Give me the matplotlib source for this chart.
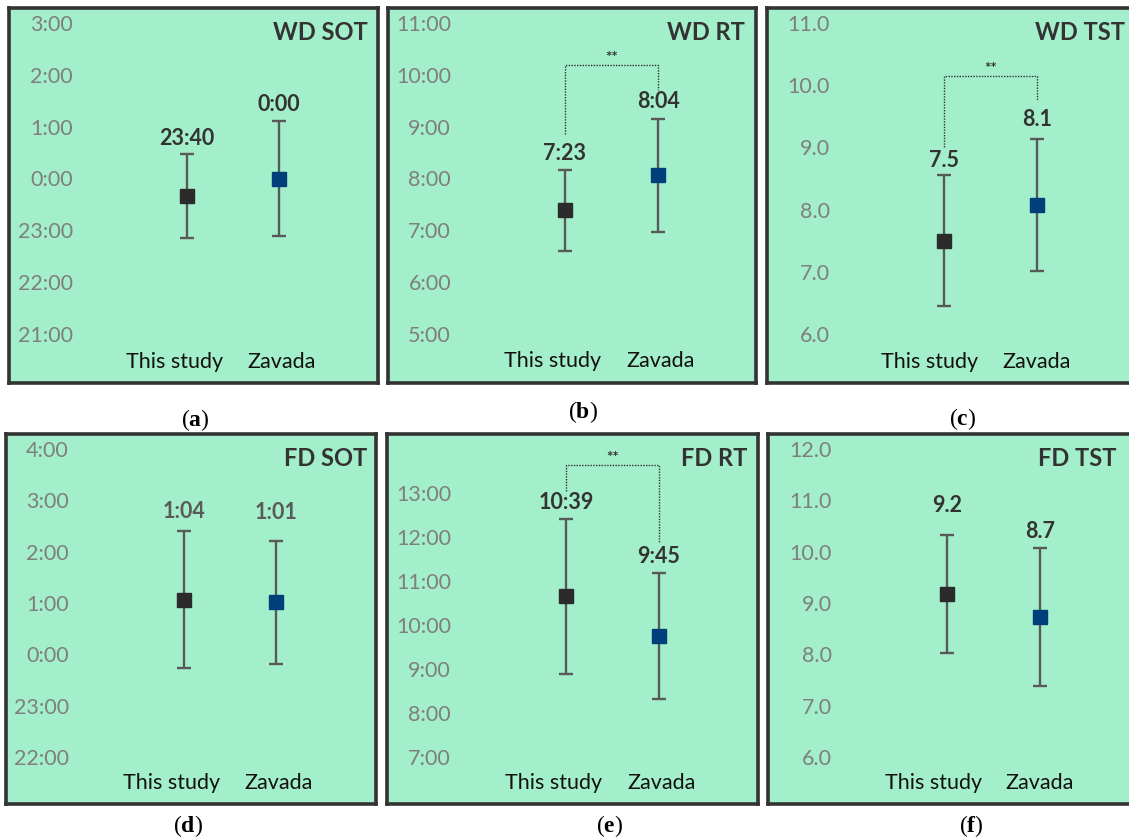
import matplotlib
matplotlib.use("Agg")
import matplotlib.pyplot as plt
from matplotlib.transforms import ScaledTranslation

plt.rcParams['font.family'] = ['Lato', 'DejaVu Sans']
plt.rcParams['mathtext.fontset'] = 'custom'
plt.rcParams['mathtext.bf'] = 'Liberation Serif:bold'
plt.rcParams['mathtext.rm'] = 'Liberation Serif'

# ---------------- data ----------------
groups = ["This study", "Zavada"]
titles = ["WD SOT", "WD RT", "WD TST", "FD SOT", "FD RT", "FD TST"]
letters = ["a", "b", "c", "d", "e", "f"]
kinds = ["time", "time", "num", "time", "time", "num"]

# means (hours; SOT relative to midnight) and standard deviations
wd_sot_mean = [-0.333, 0.0]
wd_sot_sd = [0.81, 1.10]
wd_rt_mean = [7.383, 8.067]
wd_rt_sd = [0.79, 1.09]
wd_tst_mean = [7.50, 8.07]
wd_tst_sd = [1.05, 1.06]
fd_sot_mean = [1.067, 1.017]
fd_sot_sd = [1.34, 1.20]
fd_rt_mean = [10.65, 9.75]
fd_rt_sd = [1.76, 1.43]
fd_tst_mean = [9.18, 8.73]
fd_tst_sd = [1.15, 1.35]

means = [wd_sot_mean, wd_rt_mean, wd_tst_mean, fd_sot_mean, fd_rt_mean, fd_tst_mean]
sds = [wd_sot_sd, wd_rt_sd, wd_tst_sd, fd_sot_sd, fd_rt_sd, fd_tst_sd]

# axis ranges and ticks
ylims = [(-3, 3), (5, 11), (6, 11), (-2, 4), (7, 14), (6, 12)]
yticks = [list(range(-3, 4)), list(range(5, 12)), list(range(6, 12)),
          list(range(-2, 5)), list(range(7, 14)), list(range(6, 13))]

# significance brackets: (left start, bracket top, right start) or None
brackets = [None, (8.85, 10.19, 9.71), (9.01, 10.15, 9.75), None, (13.05, 13.64, 11.89), None]

# ---------------- layout (pixels) ----------------
W, H = 1129, 839
DPI = 100
# frame boxes: left, top, right, bottom
boxes = [(9, 8, 378, 383), (388, 8, 756, 383), (767, 8, 1134, 383),
         (6, 434, 376, 804), (387, 434, 758, 804), (768, 434, 1134, 804)]
# category x pixel positions
catx = [(187, 279), (565, 658), (944, 1037), (184, 276), (566, 659), (947, 1040)]
# y pixel of ylim top / bottom
axy = [(23, 334), (23, 334), (23, 334), (449, 757), (449, 757), (449, 757)]
ylab_right = [73, 451, 830, 69, 451, 832]
xlab_y = [362, 361, 362, 783, 783, 783]
xlab_shift = [(-12, 3), (-12, 3), (-14, 0), (-12, 3), (-12, 3), (-13, 0)]
title_pos = [(368, 33), (745, 33), (1125, 33), (367, 459), (747, 459), (1117, 459)]
letter_pos = [(195, 420), (583, 412), (963, 419), (188, 826), (610, 826), (971, 826)]
label_off = [(15, 17), (16, 17), (15, 20), (19, 28), (16, 17), (29, 16)]
label_colors = ["#333333", "#333333", "#333333", "#5a5a5a", "#333333", "#333333"]

BG = "#a3eecb"
FRAME = "#333333"
TICKC = "#7f7f7f"
MARKC = ["#2b2b2b", "#003f7a"]
ERRC = "#595959"

PT = 72.0 / DPI

def fmt_time(v):
    tot = int(round((v % 24) * 60))
    return "%d:%02d" % ((tot // 60) % 24, tot % 60)

fig = plt.figure(figsize=(W / DPI, H / DPI), dpi=DPI)
fig.patch.set_facecolor("white")

for k in range(6):
    l, t, r, b = boxes[k]
    bg = fig.add_axes([l / W, 1 - b / H, (r - l) / W, (b - t) / H], zorder=0)
    bg.set_facecolor(BG)
    bg.set_xticks([])
    bg.set_yticks([])
    for s in bg.spines.values():
        s.set_color(FRAME)
        s.set_linewidth(2.6)

    x0, x1 = catx[k]
    ytop, ybot = axy[k]
    left = x0 - (x1 - x0) / 2.0
    width = 2.0 * (x1 - x0)
    ax = fig.add_axes([left / W, 1 - ybot / H, width / W, (ybot - ytop) / H], zorder=1)
    ax.set_facecolor("none")
    for s in ax.spines.values():
        s.set_visible(False)
    ax.set_xlim(-0.5, 1.5)
    ax.set_ylim(*ylims[k])

    ax.set_yticks(yticks[k])
    if kinds[k] == "time":
        ax.set_yticklabels([fmt_time(v) for v in yticks[k]])
    else:
        ax.set_yticklabels(["%.1f" % v for v in yticks[k]])
    ax.tick_params(axis="y", length=0, pad=(left - ylab_right[k]) * PT,
                   labelsize=15.5, labelcolor=TICKC)

    ax.set_xticks([0, 1])
    ax.set_xticklabels(groups)
    ax.tick_params(axis="x", length=0, pad=(xlab_y[k] - 10 - ybot) * PT,
                   labelsize=15.5, labelcolor="#111111")
    for j, lbl in enumerate(ax.get_xticklabels()):
        lbl.set_transform(lbl.get_transform() +
                          ScaledTranslation(xlab_shift[k][j] / DPI, 0, fig.dpi_scale_trans))

    m = means[k]
    sd = sds[k]
    for i in range(2):
        ax.errorbar([i], [m[i]], yerr=[sd[i]], fmt="none", ecolor=ERRC,
                    elinewidth=1.7, capsize=5, capthick=1.7, zorder=2)
        ax.plot([i], [m[i]], marker="s", ms=9.8, color=MARKC[i],
                mec=MARKC[i], linestyle="none", zorder=3)
        txt = fmt_time(m[i]) if kinds[k] == "time" else "%.1f" % m[i]
        ax.annotate(txt, xy=(i, m[i] + sd[i]), xytext=(0, label_off[k][i] * PT),
                    textcoords="offset points", ha="center", va="center",
                    fontsize=15.5, fontweight="bold", color=label_colors[k],
                    annotation_clip=False)

    br = brackets[k]
    if br is not None:
        ax.plot([0, 0, 1, 1], [br[0], br[1], br[1], br[2]], linestyle=(0, (1, 1)),
                color="#333333", lw=1.0, clip_on=False, zorder=2)
        ax.annotate("**", xy=(0.5, br[1]), xytext=(0, 7 * PT), textcoords="offset points",
                    ha="center", va="center", fontsize=11, color="#333333",
                    fontweight="bold", annotation_clip=False)

    tx, ty = title_pos[k]
    fig.text(tx / W, 1 - ty / H, titles[k], ha="right", va="center",
             fontsize=17, fontweight="bold", color=FRAME, zorder=5)

    lx, ly = letter_pos[k]
    fig.text(lx / W, 1 - ly / H, "(" + r"$\mathbf{" + letters[k] + "}$" + ")",
             ha="center", va="center", fontsize=17, family="Liberation Serif",
             color="black")

fig.savefig("out.png", dpi=DPI, facecolor="white")
